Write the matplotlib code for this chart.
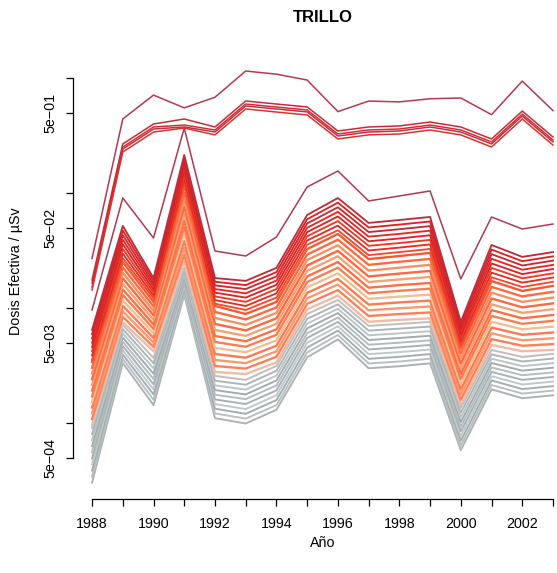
import matplotlib
matplotlib.use("Agg")
import matplotlib.pyplot as plt
from matplotlib.ticker import NullLocator

plt.rcParams['font.family'] = ['Liberation Sans', 'DejaVu Sans']

years = list(range(1988, 2004))

# ---- upper lines ----
line_a = [0.027, 0.44, 0.71, 0.55, 0.68, 1.15, 1.08, 0.96, 0.51, 0.63, 0.62, 0.66, 0.67, 0.48, 0.94, 0.52]
line_b1 = [0.0175, 0.267, 0.398, 0.440, 0.375, 0.631, 0.594, 0.560, 0.346, 0.375, 0.383, 0.414, 0.375, 0.295, 0.516, 0.307]
line_b2 = [0.0165, 0.251, 0.375, 0.390, 0.353, 0.594, 0.559, 0.527, 0.326, 0.353, 0.360, 0.390, 0.353, 0.278, 0.486, 0.289]
line_b3 = [0.0152, 0.241, 0.360, 0.375, 0.339, 0.571, 0.538, 0.507, 0.313, 0.339, 0.346, 0.375, 0.339, 0.267, 0.467, 0.278]
line_b4 = [0.0143, 0.227, 0.339, 0.367, 0.320, 0.538, 0.506, 0.477, 0.295, 0.320, 0.326, 0.353, 0.320, 0.251, 0.440, 0.261]
line_c = [0.0096, 0.0905, 0.0406, 0.367, 0.0313, 0.0283, 0.0414, 0.1128, 0.1553, 0.0852, 0.0942, 0.1041, 0.0179, 0.0618, 0.0486, 0.0537]

# ---- red group ----
red_series = [
    [0.00644, 0.0517, 0.0182, 0.214, 0.0182, 0.0172, 0.0223, 0.0644, 0.0904, 0.0549, 0.0582, 0.0619, 0.00756, 0.0353, 0.0278, 0.0306],
    [0.00591, 0.0472, 0.0172, 0.198, 0.0169, 0.0158, 0.0205, 0.0591, 0.0824, 0.0501, 0.0531, 0.0565, 0.00708, 0.0322, 0.0255, 0.0281],
    [0.00543, 0.0430, 0.0162, 0.183, 0.0157, 0.0146, 0.0188, 0.0543, 0.0751, 0.0457, 0.0484, 0.0515, 0.00663, 0.0294, 0.0234, 0.0258],
    [0.00498, 0.0392, 0.0153, 0.169, 0.0146, 0.0134, 0.0173, 0.0498, 0.0685, 0.0417, 0.0441, 0.0470, 0.00621, 0.0268, 0.0215, 0.0237],
    [0.00457, 0.0358, 0.0144, 0.156, 0.0136, 0.0123, 0.0159, 0.0457, 0.0625, 0.0380, 0.0402, 0.0429, 0.00581, 0.0244, 0.0197, 0.0218],
    [0.00420, 0.0326, 0.0136, 0.144, 0.0126, 0.0113, 0.0146, 0.0420, 0.0570, 0.0347, 0.0367, 0.0391, 0.00544, 0.0223, 0.0181, 0.0200],
    [0.00386, 0.0297, 0.0128, 0.133, 0.0117, 0.0104, 0.0134, 0.0386, 0.0520, 0.0316, 0.0335, 0.0357, 0.00509, 0.0203, 0.0166, 0.0184],
    [0.00354, 0.0271, 0.0121, 0.123, 0.0109, 0.0096, 0.0123, 0.0354, 0.0474, 0.0288, 0.0306, 0.0326, 0.00476, 0.0185, 0.0152, 0.0169],
]

# ---- orange group ----
orange_series = [
    [0.00339, 0.0251, 0.01128, 0.1151, 0.01041, 0.00887, 0.01128, 0.0325, 0.0440, 0.0266, 0.0283, 0.0301, 0.00449, 0.01715, 0.01406, 0.01554],
    [0.00302, 0.0225, 0.01031, 0.1003, 0.00923, 0.00795, 0.01011, 0.0291, 0.0393, 0.0237, 0.0252, 0.0267, 0.00405, 0.01526, 0.01260, 0.01383],
    [0.00269, 0.0202, 0.00942, 0.0874, 0.00819, 0.00712, 0.00906, 0.0261, 0.0351, 0.0211, 0.0224, 0.0237, 0.00365, 0.01358, 0.01129, 0.01231],
    [0.00240, 0.0181, 0.00861, 0.0761, 0.00726, 0.00638, 0.00812, 0.0234, 0.0314, 0.0188, 0.0199, 0.0210, 0.00329, 0.01209, 0.01012, 0.01096],
    [0.00214, 0.0162, 0.00787, 0.0663, 0.00644, 0.00572, 0.00728, 0.0210, 0.0281, 0.0168, 0.0177, 0.0186, 0.00296, 0.01076, 0.00907, 0.00975],
    [0.00191, 0.0145, 0.00719, 0.0577, 0.00571, 0.00513, 0.00652, 0.0188, 0.0251, 0.0150, 0.0158, 0.0165, 0.00267, 0.00958, 0.00813, 0.00868],
    [0.00170, 0.0130, 0.00657, 0.0503, 0.00506, 0.00460, 0.00584, 0.0168, 0.0224, 0.0134, 0.0141, 0.0147, 0.00241, 0.00853, 0.00728, 0.00773],
    [0.00152, 0.01165, 0.00600, 0.0438, 0.00449, 0.00412, 0.00523, 0.0151, 0.0200, 0.0120, 0.01255, 0.01305, 0.00217, 0.00759, 0.00652, 0.00688],
    [0.00136, 0.01044, 0.00548, 0.0382, 0.00398, 0.00369, 0.00469, 0.01353, 0.0179, 0.0107, 0.01117, 0.01159, 0.00196, 0.00676, 0.00584, 0.00612],
    [0.00121, 0.00935, 0.00501, 0.0333, 0.00353, 0.00331, 0.00420, 0.01212, 0.0160, 0.00954, 0.00994, 0.01029, 0.00177, 0.00602, 0.00523, 0.00545],
    [0.00108, 0.00838, 0.00458, 0.0290, 0.00313, 0.00297, 0.00376, 0.01086, 0.0143, 0.00851, 0.00885, 0.00914, 0.00159, 0.00536, 0.00469, 0.00485],
    [0.000963, 0.00751, 0.00419, 0.0253, 0.00278, 0.00266, 0.00337, 0.00973, 0.0128, 0.00759, 0.00788, 0.00812, 0.00143, 0.00477, 0.00420, 0.00432],
]

# ---- grey group ----
grey_series = [
    [0.000904, 0.00712, 0.00367, 0.0223, 0.00256, 0.00237, 0.00313, 0.00887, 0.01174, 0.00698, 0.00726, 0.00756, 0.00135, 0.00431, 0.00375, 0.00398],
    [0.000800, 0.00654, 0.00331, 0.0210, 0.00233, 0.00215, 0.00284, 0.00805, 0.01075, 0.00635, 0.00661, 0.00689, 0.00123, 0.00395, 0.00342, 0.00363],
    [0.000708, 0.00601, 0.00298, 0.0198, 0.00212, 0.00195, 0.00258, 0.00731, 0.00985, 0.00578, 0.00602, 0.00628, 0.00112, 0.00362, 0.00312, 0.00331],
    [0.000627, 0.00552, 0.00268, 0.0187, 0.00193, 0.00177, 0.00234, 0.00664, 0.00902, 0.00526, 0.00548, 0.00573, 0.00102, 0.00332, 0.00285, 0.00302],
    [0.000555, 0.00507, 0.00241, 0.0176, 0.00176, 0.00161, 0.00212, 0.00603, 0.00826, 0.00479, 0.00499, 0.00523, 0.000928, 0.00304, 0.00260, 0.00275],
    [0.000491, 0.00466, 0.00217, 0.0166, 0.00160, 0.00146, 0.00192, 0.00548, 0.00757, 0.00436, 0.00454, 0.00477, 0.000845, 0.00278, 0.00237, 0.00251],
    [0.000435, 0.00428, 0.00196, 0.0156, 0.00146, 0.00132, 0.00174, 0.00498, 0.00693, 0.00397, 0.00413, 0.00435, 0.000769, 0.00255, 0.00216, 0.00229],
    [0.000385, 0.00393, 0.00177, 0.0147, 0.00133, 0.00120, 0.00158, 0.00452, 0.00635, 0.00361, 0.00376, 0.00397, 0.000700, 0.00234, 0.00197, 0.00209],
    [0.000341, 0.00361, 0.00159, 0.0138, 0.00121, 0.00109, 0.00143, 0.00410, 0.00582, 0.00329, 0.00342, 0.00362, 0.000637, 0.00214, 0.00180, 0.00191],
    [0.000302, 0.00332, 0.00143, 0.0130, 0.00110, 0.000989, 0.00130, 0.00372, 0.00533, 0.00299, 0.00311, 0.00330, 0.000580, 0.00196, 0.00164, 0.00174],
]

y_ticks = [1, 0.5, 0.1, 0.05, 0.01, 0.005, 0.001, 0.0005]
y_ticklabels = ['', '5e\u221201', '', '5e\u221202', '', '5e\u221203', '', '5e\u221204']
x_ticklabels = [str(y) if y % 2 == 0 else '' for y in years]

title = 'TRILLO'
xlabel = 'A\u00f1o'
ylabel = 'Dosis Efectiva / \u00b5Sv'

# ---- styles ----
upper_colors = ['#B23A50', '#C42C3C', '#DA2C2C', '#B8344A', '#E2302A', '#AE3A50']
red_colors = ['#B8303F', '#E0221E', '#C42A3A', '#E8281E', '#D8242A', '#EE3A22', '#E02E2A', '#F24A2C']
orange_colors = ['#F45A34', '#FF6A42', '#F89062', '#FF6845', '#F6A274', '#FF7048',
                 '#FB7E52', '#F0C094', '#FF7A52', '#F79A72', '#FF8058', '#EDBCA6']
grey_colors = ['#C6BCB8', '#AAB6B8', '#BCC4C6', '#A2ACAE', '#B4BCBE',
               '#A8B2B4', '#C0C8CA', '#A4AEB0', '#B8C0C2', '#AAB4B6']

fig = plt.figure(figsize=(5.57, 5.73), dpi=100)
ax = fig.add_axes([73 / 557, 1 - 499 / 573, (557 - 73) / 557, (499 - 60) / 573])
ax.set_yscale('log')

for s, c in zip(grey_series[::-1], grey_colors[::-1]):
    ax.plot(years, s, color=c, lw=1.4)
for s, c in zip(orange_series[::-1], orange_colors[::-1]):
    ax.plot(years, s, color=c, lw=1.7)
for s, c in zip(red_series[::-1], red_colors[::-1]):
    ax.plot(years, s, color=c, lw=1.35)
for s, c in zip([line_a, line_b1, line_b2, line_b3, line_b4, line_c], upper_colors):
    ax.plot(years, s, color=c, lw=1.1)

ax.set_xlim(1987.38, 2003.13)
ax.set_ylim(2.18e-4, 1.434)

ax.set_xticks(years)
ax.set_xticklabels(x_ticklabels)
ax.set_yticks(y_ticks)
ax.set_yticklabels(y_ticklabels)
ax.yaxis.set_minor_locator(NullLocator())
ax.xaxis.set_minor_locator(NullLocator())
for lab in ax.get_yticklabels():
    lab.set_rotation(90)
    lab.set_va('center')
    lab.set_ha('right')

ax.tick_params(axis='both', direction='out', length=5, width=0.9, colors='black', labelsize=10.3)
ax.tick_params(axis='y', pad=6)
ax.tick_params(axis='x', pad=8)

ax.spines['top'].set_visible(False)
ax.spines['right'].set_visible(False)
ax.spines['left'].set_bounds(5e-4, 1)
ax.spines['bottom'].set_bounds(1988, 2003)
ax.spines['left'].set_linewidth(0.9)
ax.spines['bottom'].set_linewidth(0.9)

fig.text(323 / 557, 1 - 18 / 573, title, ha='center', va='center', fontsize=12, fontweight='bold')
fig.text(323 / 557, 1 - 543 / 573, xlabel, ha='center', va='center', fontsize=10.3)
fig.text(16 / 557, 1 - 271 / 573, ylabel, ha='center', va='center', rotation=90, fontsize=10.3)

fig.savefig('out.png', dpi=100)
